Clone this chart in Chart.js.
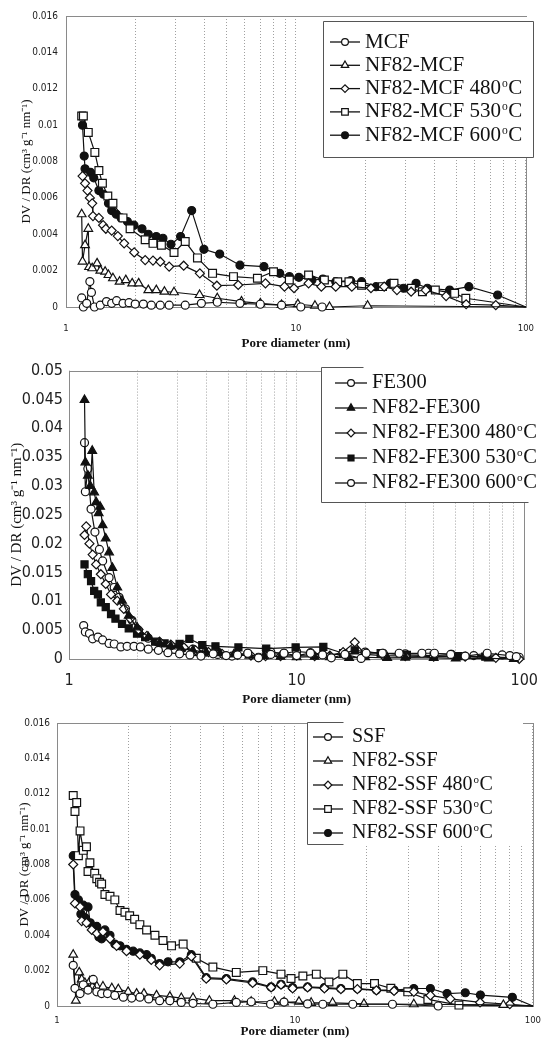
<!DOCTYPE html>
<html>
<head>
<meta charset="utf-8">
<script src="https://cdn.jsdelivr.net/npm/chart.js@4.4.1/dist/chart.umd.min.js"></script>
<style>
  body { margin: 0; background: #fff; width: 550px; height: 1039px; overflow: hidden; position: relative; }
  canvas { position: absolute; left: 0; }
</style>
</head>
<body>
<canvas id="c1" width="550" height="355" style="top:0px"></canvas>
<canvas id="c2" width="550" height="355" style="top:355px"></canvas>
<canvas id="c3" width="550" height="329" style="top:710px"></canvas>
<script>
// tick values
const xTicks = [1, 2, 3, 4, 5, 6, 7, 8, 9, 10, 20, 30, 40, 50, 60, 70, 80, 90, 100];
const xLabels = [1, 10, 100];
const yTicksSmall = [0, 0.002, 0.004, 0.006, 0.008, 0.01, 0.012, 0.014, 0.016];
const yTicksFe = [0, 0.005, 0.01, 0.015, 0.02, 0.025, 0.03, 0.035, 0.04, 0.045, 0.05];

// panel 1 : MCF  [pore diameter nm, DV/DR]
const mcf = [[1.17,0.0005],[1.19,0],[1.23,0.0002],[1.27,0.0014],[1.29,0.0008],[1.33,0],[1.41,0.0001],[1.5,0.0003],[1.58,0.0002],[1.66,0.00035],[1.77,0.0002],[1.88,0.00024],[2.0,0.00016],[2.17,0.00016],[2.35,0.0001],[2.57,0.0001],[2.81,0.0001],[3.3,0.0001],[3.88,0.0002],[4.55,0.00026],[5.71,0.0002],[7.0,0.00015],[8.66,0.0001],[10.5,0],[13,0]];
const nf82Mcf = [[1.17,0.0051],[1.18,0.0025],[1.21,0.0034],[1.25,0.0043],[1.26,0.0022],[1.3,0.00213],[1.365,0.0024],[1.41,0.002],[1.48,0.00194],[1.53,0.00176],[1.6,0.00158],[1.71,0.00139],[1.82,0.00148],[1.94,0.0013],[2.07,0.0013],[2.28,0.00093],[2.47,0.00093],[2.68,0.00084],[2.95,0.00081],[3.81,0.00066],[4.55,0.00048],[5.8,0.0003],[7.0,0.0002],[8.66,0.00011],[10.2,0.00015],[12.1,0.00007],[14,0],[20.5,0.00007],[100,0]];
const mcf480 = [[1.18,0.0072],[1.21,0.0068],[1.24,0.0064],[1.27,0.006],[1.3,0.0057],[1.31,0.005],[1.39,0.0049],[1.45,0.0045],[1.49,0.0043],[1.58,0.0042],[1.68,0.0039],[1.79,0.0035],[1.98,0.003],[2.21,0.00258],[2.39,0.00255],[2.57,0.00249],[2.81,0.00222],[3.25,0.00227],[3.82,0.00185],[4.53,0.00117],[5.61,0.00121],[7.37,0.0013],[8.92,0.00112],[9.81,0.00103],[11.35,0.0013],[12.9,0.00112],[14.9,0.00112],[17.5,0.00112],[21.2,0.00103],[24.2,0.00112],[27.5,0.00093],[31.7,0.00084],[36.7,0.00093],[45,0.0006],[55,0.00015],[74,0.0001],[100,0]];
const mcf530 = [[1.17,0.0105],[1.19,0.0105],[1.25,0.0096],[1.335,0.0085],[1.39,0.0075],[1.44,0.0068],[1.52,0.0061],[1.6,0.0057],[1.77,0.0049],[1.9,0.0043],[2.21,0.0037],[2.39,0.0035],[2.6,0.0034],[2.95,0.003],[3.3,0.0036],[3.73,0.0027],[4.34,0.00185],[5.35,0.00167],[6.8,0.00158],[7.99,0.00194],[9.36,0.00148],[11.35,0.00176],[13.3,0.00148],[15.2,0.00139],[17,0.00139],[19.3,0.0012],[23.8,0.00112],[26.7,0.0013],[31.8,0.00103],[35.5,0.00084],[40.4,0.00093],[49,0.00075],[54.8,0.00048],[100,0]];
const mcf600 = [[1.18,0.01],[1.2,0.0083],[1.21,0.0076],[1.28,0.0074],[1.32,0.0071],[1.39,0.0064],[1.456,0.0062],[1.53,0.0057],[1.58,0.0053],[1.655,0.0051],[1.737,0.0049],[1.85,0.0047],[1.976,0.0045],[2.14,0.0043],[2.28,0.004],[2.47,0.00387],[2.64,0.00378],[2.86,0.00345],[3.15,0.00387],[3.52,0.0053],[3.98,0.00317],[4.66,0.00291],[5.71,0.0023],[7.26,0.00222],[8.5,0.00185],[9.37,0.00167],[10.3,0.00163],[11.74,0.00148],[13.1,0.00154],[14.9,0.00139],[17.3,0.00145],[19.3,0.00139],[22.3,0.00112],[25.7,0.0013],[29.4,0.00103],[33.3,0.0013],[37.3,0.00103],[46.6,0.00093],[56.5,0.00112],[75.4,0.00066],[100,0]];

// panel 2 : FE300
const fe300 = [[1.16,0.0058],[1.18,0.0047],[1.23,0.0044],[1.27,0.0035],[1.34,0.0038],[1.405,0.0033],[1.5,0.0027],[1.58,0.0026],[1.69,0.0021],[1.8,0.0022],[1.93,0.0022],[2.06,0.0021],[2.23,0.0017],[2.47,0.0015],[2.72,0.0011],[3.06,0.0009],[3.4,0.0007],[3.8,0.0005],[4.3,0.0009],[4.9,0.0006],[5.5,0.0007],[6.1,0.001],[6.8,0.0002],[7.7,0.0008],[8.8,0.001],[10,0.0006],[11.5,0.001],[13,0.0007],[14.2,0.0002],[16.3,0.0008],[19.2,0.0001],[20.2,0.001],[23.8,0.001],[28.2,0.001],[35.5,0.001],[40.3,0.001],[47.5,0.0008],[55,0.0005],[68.7,0.001],[86.4,0.0006],[92.3,0.0004]];
const nf82Fe = [[1.17,0.0449],[1.18,0.0341],[1.21,0.0318],[1.24,0.03],[1.265,0.0361],[1.29,0.0289],[1.316,0.0272],[1.35,0.0253],[1.37,0.0264],[1.405,0.0232],[1.45,0.0209],[1.5,0.0185],[1.55,0.0158],[1.63,0.0124],[1.71,0.0101],[1.83,0.0075],[1.99,0.0055],[2.23,0.0038],[2.5,0.0028],[2.8,0.0022],[3.1,0.0018],[3.5,0.0015],[4,0.0012],[4.6,0.001],[5.3,0.0008],[6.2,0.0006],[7.2,0.0005],[8.5,0.0004],[10,0.0003],[12,0.0004],[14,0.0003],[17,0.0002],[20,0.0003],[25,0.0002],[30,0.00025],[40,0.0002],[50,0.0001],[70,0.0001],[90,0]];
const fe480 = [[1.17,0.0215],[1.19,0.023],[1.23,0.02],[1.27,0.0181],[1.316,0.0164],[1.38,0.0147],[1.45,0.013],[1.53,0.0112],[1.63,0.0101],[1.74,0.0087],[1.86,0.007],[2.02,0.0051],[2.2,0.004],[2.5,0.003],[2.8,0.0025],[3.2,0.002],[3.6,0.0015],[4.1,0.0012],[4.7,0.0009],[5.5,0.0007],[6.3,0.0006],[7.3,0.0005],[8.5,0.0005],[10,0.0006],[12,0.0005],[14,0.0006],[16,0.0012],[18,0.0029],[20,0.0008],[24,0.0006],[30,0.0005],[40,0.0004],[55,0.0004],[75,0.0002],[95,0]];
const fe530 = [[1.17,0.0164],[1.21,0.0147],[1.25,0.0135],[1.29,0.0118],[1.34,0.0112],[1.38,0.0098],[1.45,0.009],[1.53,0.0078],[1.6,0.007],[1.71,0.0061],[1.83,0.0053],[1.99,0.0044],[2.16,0.0038],[2.39,0.003],[2.63,0.0027],[3.06,0.0026],[3.38,0.0035],[3.85,0.0024],[4.4,0.0022],[5.55,0.002],[7.35,0.0018],[9.9,0.002],[13.1,0.0021],[16,0.001],[18,0.0015],[23.4,0.001],[30.5,0.0007],[40,0.0006],[51.5,0.0005],[67.4,0.0004],[90,0.0002]];
const fe600 = [[1.17,0.0375],[1.18,0.029],[1.21,0.033],[1.25,0.026],[1.3,0.022],[1.36,0.019],[1.405,0.017],[1.5,0.0141],[1.58,0.0124],[1.66,0.0107],[1.77,0.0087],[1.89,0.0067],[2.02,0.005],[2.23,0.0036],[2.5,0.0028],[2.8,0.0023],[3.1,0.002],[3.5,0.0017],[4,0.0012],[4.5,0.0008],[5.2,0.0005],[6.1,0.001],[6.8,0.0003],[7.7,0.0012],[8.8,0.001],[10,0.0013],[11.5,0.0011],[13,0.0008],[16.3,0.0008],[20,0.0012],[24,0.001],[30,0.0009],[38,0.001],[48,0.0008],[60,0.0006],[80,0.0007],[95,0.0003]];

// panel 3 : SSF
const ssf = [[1.17,0.0023],[1.19,0.001],[1.25,0.0007],[1.29,0.0012],[1.35,0.0009],[1.42,0.0015],[1.47,0.0008],[1.54,0.0007],[1.63,0.0007],[1.75,0.0006],[1.9,0.0005],[2.06,0.00045],[2.23,0.0005],[2.43,0.0004],[2.7,0.0003],[2.98,0.0003],[3.33,0.0002],[3.73,0.00015],[4.52,0.0001],[5.67,0.0002],[6.55,0.00024],[7.9,0.0001],[9,0.00022],[11.3,0.00012],[13.1,0.0001],[17.5,0.0001],[25.7,0.0001],[40,0]];
const nf82Ssf = [[1.17,0.0029],[1.2,0.0003],[1.24,0.0019],[1.27,0.0015],[1.31,0.0013],[1.375,0.0014],[1.47,0.0011],[1.56,0.0011],[1.7,0.001],[1.81,0.00095],[1.99,0.0008],[2.16,0.0007],[2.32,0.0007],[2.62,0.0006],[2.98,0.00053],[3.33,0.00045],[3.73,0.00045],[4.37,0.0003],[5.57,0.0003],[6.55,0.00024],[8.2,0.00024],[9,0.0002],[10.4,0.00024],[11.7,0.00018],[14.4,0.00018],[19.5,0.00012],[31.6,0.0001],[75.2,0.00006],[100,0]];
const ssf480 = [[1.17,0.008],[1.19,0.0058],[1.25,0.0056],[1.27,0.0048],[1.33,0.0047],[1.4,0.0043],[1.47,0.0041],[1.56,0.0042],[1.67,0.0038],[1.78,0.0034],[1.96,0.0031],[2.23,0.0029],[2.49,0.0026],[2.7,0.0023],[3.28,0.0024],[3.67,0.0028],[4.24,0.00155],[5.15,0.0015],[6.64,0.0013],[7.94,0.00105],[8.74,0.0012],[9.78,0.001],[11.3,0.00105],[13.3,0.001],[15.6,0.00095],[18.3,0.00095],[22,0.00088],[26.1,0.00085],[31.6,0.0008],[37.1,0.0006],[45,0.0004],[60,0.0002],[80,0.0001],[100,0]];
const ssf530 = [[1.17,0.0119],[1.19,0.011],[1.21,0.0115],[1.23,0.0085],[1.25,0.0099],[1.29,0.0088],[1.33,0.009],[1.35,0.0076],[1.375,0.0081],[1.44,0.0075],[1.47,0.0072],[1.51,0.007],[1.54,0.0069],[1.59,0.0063],[1.67,0.0062],[1.75,0.006],[1.84,0.0054],[1.93,0.0053],[2.02,0.0051],[2.12,0.0049],[2.23,0.0046],[2.38,0.0043],[2.58,0.004],[2.79,0.0037],[3.03,0.0034],[3.39,0.0035],[3.85,0.0027],[4.52,0.0022],[5.67,0.0019],[7.33,0.002],[8.74,0.0018],[9.63,0.00155],[10.8,0.0017],[12.3,0.0018],[13.9,0.00136],[15.9,0.0018],[18.3,0.00127],[21.6,0.00127],[25.3,0.001],[29.8,0.0008],[36.2,0.00037],[48.9,0.00005],[100,0]];
const ssf600 = [[1.17,0.0085],[1.19,0.0063],[1.23,0.006],[1.26,0.0052],[1.29,0.0057],[1.31,0.005],[1.35,0.0056],[1.38,0.0047],[1.42,0.0044],[1.47,0.0045],[1.5,0.0039],[1.54,0.0038],[1.59,0.0043],[1.67,0.004],[1.75,0.0035],[1.84,0.0034],[1.96,0.0032],[2.09,0.0031],[2.23,0.003],[2.38,0.0029],[2.49,0.0027],[2.7,0.0024],[2.93,0.0025],[3.28,0.0025],[3.67,0.0029],[4.24,0.0016],[5.15,0.00155],[6.64,0.00136],[7.94,0.00108],[8.74,0.00123],[9.78,0.00104],[11.3,0.00108],[13.3,0.00104],[15.6,0.00099],[18.3,0.00099],[22,0.0009],[26.1,0.0009],[31.6,0.00099],[37.1,0.00099],[43.6,0.0007],[52,0.00075],[60.2,0.00062],[82,0.00049],[100,0]];

const SERIF = "'Liberation Serif', 'Times New Roman', serif";
const NARROW = "'Liberation Sans Narrow', 'DejaVu Sans Condensed', 'Liberation Sans', sans-serif";
const INK = '#111';

// marker looks
const oCircle = {style: 'circle', r: 4, fill: '#fff'};
const oTri = {style: 'triangle', r: 5, fill: '#fff'};
const oDiamond = {style: 'rectRot', r: 4.5, fill: '#fff'};
const oSquare = {style: 'rect', r: 5.5, fill: '#fff'};
const fCircle = {style: 'circle', r: 4, fill: INK};
const fTri = {style: 'triangle', r: 5, fill: INK};
const fSquare = {style: 'rect', r: 5, fill: INK};

const pts = a => a.map(([x, y]) => ({x: x, y: y}));

function drawLabel(ctx, text, x, y, size) {
  ctx.font = size + 'px ' + SERIF;
  ctx.textBaseline = 'middle';
  ctx.textAlign = 'left';
  const deg = text.indexOf('°');
  if (deg < 0) { ctx.fillText(text, x, y); return; }
  const head = text.slice(0, deg), tail = text.slice(deg + 1);
  ctx.fillText(head, x, y);
  let w = ctx.measureText(head).width + size * 0.05;
  ctx.font = (size * 0.55) + 'px ' + SERIF;
  ctx.fillText('o', x + w, y - size * 0.22);
  w += ctx.measureText('o').width + size * 0.02;
  ctx.font = size + 'px ' + SERIF;
  ctx.fillText(tail, x + w, y);
}

// grey box round the plot area
const framePlugin = {
  id: 'frame',
  beforeDatasetsDraw(chart) {
    const a = chart.chartArea, ctx = chart.ctx;
    ctx.save();
    ctx.strokeStyle = '#8a8a8a';
    ctx.lineWidth = 1;
    ctx.strokeRect(Math.round(a.left) + 0.5, Math.round(a.top) + 0.5, Math.round(a.right - a.left), Math.round(a.bottom - a.top));
    ctx.restore();
  }
};

function boxLegend(L) {
  return {
    id: 'boxLegend',
    afterDatasetsDraw(chart) {
      const ctx = chart.ctx;
      ctx.save();
      ctx.fillStyle = '#fff';
      ctx.fillRect(L.fill[0], L.fill[1], L.fill[2] - L.fill[0], L.fill[3] - L.fill[1]);
      ctx.strokeStyle = '#555';
      ctx.lineWidth = 1;
      L.edges.forEach(e => {
        ctx.beginPath();
        ctx.moveTo(e[0] + 0.5, e[1] + 0.5);
        ctx.lineTo(e[2] + 0.5, e[3] + 0.5);
        ctx.stroke();
      });
      chart.data.datasets.forEach((ds, i) => {
        const y = L.rowY + i * L.rowH;
        ctx.strokeStyle = INK;
        ctx.lineWidth = 1.3;
        ctx.beginPath();
        ctx.moveTo(L.lineX[0], y);
        ctx.lineTo(L.lineX[1], y);
        ctx.stroke();
        ctx.fillStyle = ds.pointBackgroundColor;
        ctx.lineWidth = 1.2;
        Chart.helpers.drawPoint(ctx, {pointStyle: ds.pointStyle, radius: ds.markR * 0.85, borderWidth: 1.2, rotation: 0},
          (L.lineX[0] + L.lineX[1]) / 2, y);
        ctx.fillStyle = INK;
        drawLabel(ctx, ds.label, L.textX, y, L.size);
      });
      ctx.restore();
    }
  };
}

function makeChart(id, o) {
  const cv = document.getElementById(id);
  const H = cv.height;
  return new Chart(cv, {
    type: 'scatter',
    data: {
      datasets: o.series.map(s => ({
        label: s.label,
        data: pts(s.data),
        showLine: true,
        clip: false,
        borderColor: INK,
        borderWidth: 1.2,
        pointStyle: s.mark.style,
        markR: s.mark.r,
        pointRadius: c => (c.raw && c.raw.x >= 99) ? 0 : s.mark.r,
        pointBorderWidth: 1.2,
        pointBorderColor: INK,
        pointBackgroundColor: s.mark.fill
      }))
    },
    options: {
      responsive: false,
      animation: false,
      events: [],
      layout: {padding: {left: 0, top: o.area.top, right: 550 - o.area.right, bottom: 0}},
      scales: {
        x: {
          type: 'logarithmic', min: 1, max: 100,
          afterBuildTicks: s => { s.ticks = xTicks.map(v => ({value: v})); },
          afterFit: s => { s.height = H - o.area.bottom; },
          ticks: {autoSkip: false, maxRotation: 0, padding: o.xTickPad, color: '#222',
            font: {family: o.xTickFamily, size: o.xTickSize, lineHeight: 1.2},
            callback: v => xLabels.includes(v) ? String(v) : ''},
          grid: {color: '#a0a0a0', lineWidth: 1, drawTicks: false},
          border: {display: false, dash: [1, 2]},
          title: {display: true, text: 'Pore diameter (nm)', color: '#111',
            font: {family: SERIF, size: o.xTitleSize, weight: 'bold', lineHeight: 1.2},
            padding: {top: 0, bottom: o.xTitlePad}}
        },
        y: {
          min: 0, max: o.yMax,
          afterBuildTicks: s => { s.ticks = o.yTicks.map(v => ({value: v})); },
          afterFit: s => { s.width = o.area.left; },
          ticks: {padding: o.yTickPad, color: '#222',
            font: {family: NARROW, size: o.yTickSize, lineHeight: 1.2},
            callback: v => String(+v.toFixed(4))},
          grid: {display: false, drawTicks: false},
          border: {display: false},
          title: {display: true, text: 'DV / DR (cm³ g⁻¹ nm⁻¹)', color: '#111',
            font: {family: SERIF, size: o.yTitleSize, lineHeight: 1.2},
            padding: {top: o.yTitlePad, bottom: 0}}
        }
      },
      plugins: {legend: {display: false}, tooltip: {enabled: false}}
    },
    plugins: [framePlugin, boxLegend(o.legend)]
  });
}

// panel 1 (canvas top 0)
makeChart('c1', {
  area: {left: 66, top: 16, right: 544, bottom: 307},
  yMax: 0.016, yTicks: yTicksSmall, yTickSize: 10, yTickPad: 8, yTitleSize: 13, yTitlePad: 19,
  xTickFamily: NARROW, xTickSize: 9.5, xTickPad: 16, xTitleSize: 13, xTitlePad: 4,
  series: [
    {label: 'MCF', data: mcf, mark: oCircle},
    {label: 'NF82-MCF', data: nf82Mcf, mark: oTri},
    {label: 'NF82-MCF 480°C', data: mcf480, mark: oDiamond},
    {label: 'NF82-MCF 530°C', data: mcf530, mark: oSquare},
    {label: 'NF82-MCF 600°C', data: mcf600, mark: fCircle}
  ],
  legend: {fill: [323, 17, 545, 157], edges: [[323, 21, 533, 21], [323, 21, 323, 157], [323, 157, 533, 157], [533, 21, 533, 157]],
    rowY: 42, rowH: 23.3, lineX: [330, 360], textX: 365, size: 21}
});

// panel 2 (canvas top 355)
makeChart('c2', {
  area: {left: 69, top: 12, right: 533, bottom: 304},
  yMax: 0.05, yTicks: yTicksFe, yTickSize: 16, yTickPad: 6, yTitleSize: 15, yTitlePad: 8,
  xTickFamily: NARROW, xTickSize: 16, xTickPad: 12, xTitleSize: 13, xTitlePad: 3,
  series: [
    {label: 'FE300', data: fe300, mark: oCircle},
    {label: 'NF82-FE300', data: nf82Fe, mark: fTri},
    {label: 'NF82-FE300 480°C', data: fe480, mark: oDiamond},
    {label: 'NF82-FE300 530°C', data: fe530, mark: fSquare},
    {label: 'NF82-FE300 600°C', data: fe600, mark: oCircle}
  ],
  legend: {fill: [321, 11, 535, 147], edges: [[321, 12, 363, 12], [321, 12, 321, 147], [321, 147, 528, 147]],
    rowY: 28, rowH: 25, lineX: [335, 367], textX: 372, size: 20.5}
});

// panel 3 (canvas top 710)
makeChart('c3', {
  area: {left: 57, top: 10, right: 534, bottom: 296},
  yMax: 0.016, yTicks: yTicksSmall, yTickSize: 10, yTickPad: 7, yTitleSize: 13, yTitlePad: 17,
  xTickFamily: NARROW, xTickSize: 9.5, xTickPad: 9, xTitleSize: 13, xTitlePad: 0,
  series: [
    {label: 'SSF', data: ssf, mark: oCircle},
    {label: 'NF82-SSF', data: nf82Ssf, mark: oTri},
    {label: 'NF82-SSF 480°C', data: ssf480, mark: oDiamond},
    {label: 'NF82-SSF 530°C', data: ssf530, mark: oSquare},
    {label: 'NF82-SSF 600°C', data: ssf600, mark: fCircle}
  ],
  legend: {fill: [307, 9, 523, 134], edges: [[307, 12, 343, 12], [307, 12, 307, 134], [307, 134, 343, 134]],
    rowY: 27, rowH: 24, lineX: [313, 343], textX: 352, size: 20}
});
</script>
</body>
</html>
